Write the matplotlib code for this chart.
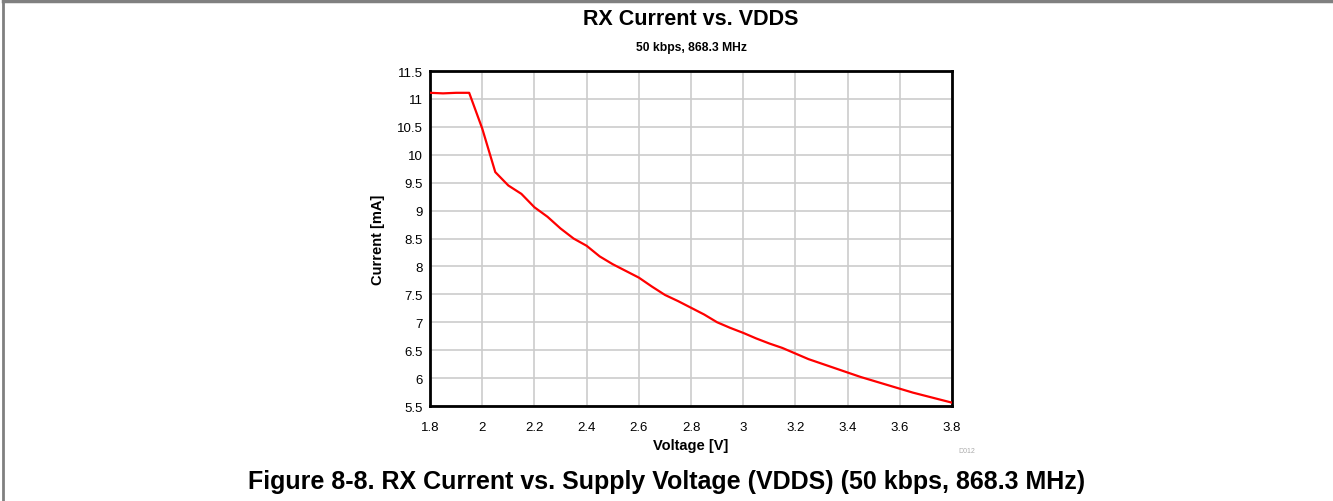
import matplotlib
matplotlib.use("Agg")
import matplotlib.pyplot as plt
from matplotlib.lines import Line2D

plt.rcParams['font.family'] = ['Liberation Sans', 'DejaVu Sans']

# RX current vs supply voltage
voltage = [1.80, 1.85, 1.90, 1.95, 2.00, 2.05, 2.10, 2.15, 2.20, 2.25,
           2.30, 2.35, 2.40, 2.45, 2.50, 2.55, 2.60, 2.65, 2.70, 2.75,
           2.80, 2.85, 2.90, 2.95, 3.00, 3.05, 3.10, 3.15, 3.20, 3.25,
           3.30, 3.35, 3.40, 3.45, 3.50, 3.55, 3.60, 3.65, 3.70, 3.75, 3.80]
current = [11.11, 11.10, 11.11, 11.11, 10.47, 9.69, 9.45, 9.30, 9.06, 8.89,
           8.68, 8.50, 8.37, 8.18, 8.04, 7.92, 7.80, 7.64, 7.49, 7.38,
           7.26, 7.14, 7.00, 6.90, 6.81, 6.71, 6.62, 6.54, 6.44, 6.34,
           6.26, 6.18, 6.10, 6.02, 5.95, 5.88, 5.81, 5.74, 5.68, 5.62, 5.56]

xticks = [1.8, 2.0, 2.2, 2.4, 2.6, 2.8, 3.0, 3.2, 3.4, 3.6, 3.8]
xtick_labels = ['1.8', '2', '2.2', '2.4', '2.6', '2.8', '3', '3.2', '3.4', '3.6', '3.8']
yticks = [5.5, 6, 6.5, 7, 7.5, 8, 8.5, 9, 9.5, 10, 10.5, 11, 11.5]
ytick_labels = ['5.5', '6', '6.5', '7', '7.5', '8', '8.5', '9', '9.5', '10', '10.5', '11', '11.5']

fig = plt.figure(figsize=(13.33, 5.02), dpi=100)
ax = fig.add_axes([0.3226, 0.1892, 0.3916, 0.6673])

ax.plot(voltage, current, color='#ff0000', lw=1.6, zorder=3)

ax.set_xlim(1.8, 3.8)
ax.set_ylim(5.5, 11.5)
ax.set_xticks(xticks)
ax.set_xticklabels(xtick_labels)
ax.set_yticks(yticks)
ax.set_yticklabels(ytick_labels)
ax.tick_params(length=0, labelsize=9.5)
ax.tick_params(axis='x', pad=10.5)
ax.tick_params(axis='y', pad=5)
ax.grid(True, color='#cccccc', lw=1.2)
for s in ax.spines.values():
    s.set_linewidth(2)
    s.set_color('black')

ax.set_xlabel('Voltage [V]', fontsize=10.5, fontweight='bold', labelpad=4)
ax.set_ylabel('Current [mA]', fontsize=10.5, fontweight='bold', labelpad=9)

fig.text(0.5184, 0.962, 'RX Current vs. VDDS', ha='center', va='center',
         fontsize=15.5, fontweight='bold')
fig.text(0.5184, 0.905, '50 kbps, 868.3 MHz', ha='center', va='center',
         fontsize=8.7, fontweight='bold')
fig.text(0.7187, 0.1, 'D012', ha='left', va='center', fontsize=5, color='#aaaaaa')
fig.text(0.5, 0.04, 'Figure 8-8. RX Current vs. Supply Voltage (VDDS) (50 kbps, 868.3 MHz)',
         ha='center', va='center', fontsize=18, fontweight='bold')

# grey frame on top and left edges
fig.add_artist(Line2D([0.0025, 0.0025], [0, 0.997], transform=fig.transFigure,
                      color='#808080', lw=2))
fig.add_artist(Line2D([0.0025, 1], [0.997, 0.997], transform=fig.transFigure,
                      color='#808080', lw=2.5))

fig.savefig('out.png', dpi=100)
